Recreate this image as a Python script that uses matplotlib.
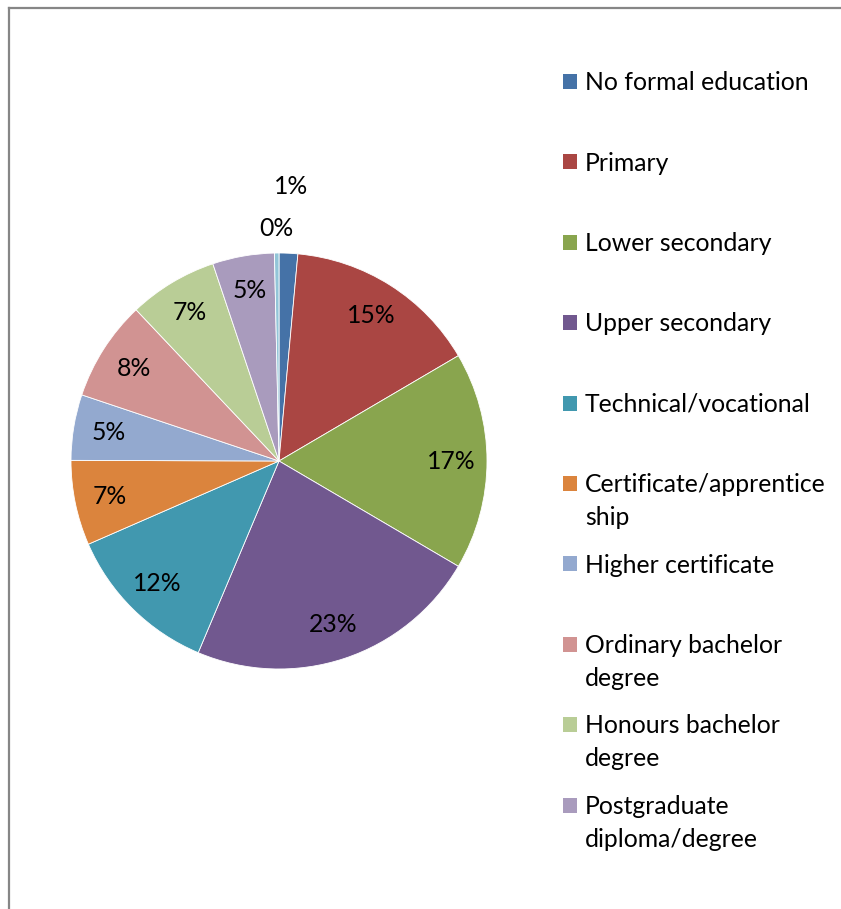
import matplotlib
matplotlib.use("Agg")
import matplotlib.pyplot as plt
import matplotlib.patches as mpatches
import numpy as np

categories = ["No formal education", "Primary", "Lower secondary", "Upper secondary",
              "Technical/vocational", "Certificate/apprentice\nship", "Higher certificate",
              "Ordinary bachelor\ndegree", "Honours bachelor\ndegree", "Postgraduate\ndiploma/degree",
              "Doctoral degree"]
values = [1.45, 15.1, 16.9, 22.9, 12.1, 6.6, 5.1, 7.8, 6.9, 4.8, 0.35]
colors = ["#4572A7", "#AA4643", "#89A54E", "#71588F", "#4198AF", "#DB843D",
          "#93A9CF", "#D19392", "#B9CD96", "#A99BBD", "#92C5D8"]
legend_count = 10  # legend is cut off after the 10th entry

W, H = 841, 909
DPI = 100
FONT = "Lato"
FS = 17.8

fig = plt.figure(figsize=(W / DPI, H / DPI), dpi=DPI)
fig.patch.set_facecolor("white")

# border (left & top visible)
fig.add_artist(plt.Line2D([8.5 / W, 8.5 / W], [0, 1 - 8 / H], color="#868686", lw=1.6, transform=fig.transFigure))
fig.add_artist(plt.Line2D([8.5 / W, 1], [1 - 8 / H, 1 - 8 / H], color="#868686", lw=1.6, transform=fig.transFigure))

cx, cy, R = 279, 461, 208
ax = fig.add_axes([(cx - R) / W, (H - cy - R) / H, 2 * R / W, 2 * R / H])
wedges, _ = ax.pie(values, colors=colors, startangle=90, counterclock=False,
                   wedgeprops=dict(edgecolor="white", linewidth=0.6), radius=1.0)
ax.set_xlim(-1, 1)
ax.set_ylim(-1, 1)
ax.set_aspect("equal")
ax.axis("off")

total = sum(values)
label_dist = [1.32] + [0.83] * 9 + [1.12]
for w, v, d in zip(wedges, values, label_dist):
    ang = np.deg2rad((w.theta1 + w.theta2) / 2)
    ax.text(d * np.cos(ang), d * np.sin(ang), f"{round(v / total * 100):.0f}%",
            ha="center", va="center", fontsize=FS, family=FONT, color="black")

# legend
y0, pitch, line_h = 81.5, 80.4, 33.0
for i in range(legend_count):
    yc = y0 + i * pitch
    fig.add_artist(mpatches.Rectangle((563 / W, 1 - (yc + 7.5) / H), 14 / W, 15 / H,
                                      facecolor=colors[i], edgecolor="none", transform=fig.transFigure))
    lines = categories[i].split("\n")
    for j, line in enumerate(lines):
        fig.text(585 / W, 1 - (yc + 8.7 + j * line_h) / H, line, fontsize=FS, family=FONT,
                 ha="left", va="baseline", color="black")

fig.savefig("out.png", dpi=DPI, facecolor="white")
